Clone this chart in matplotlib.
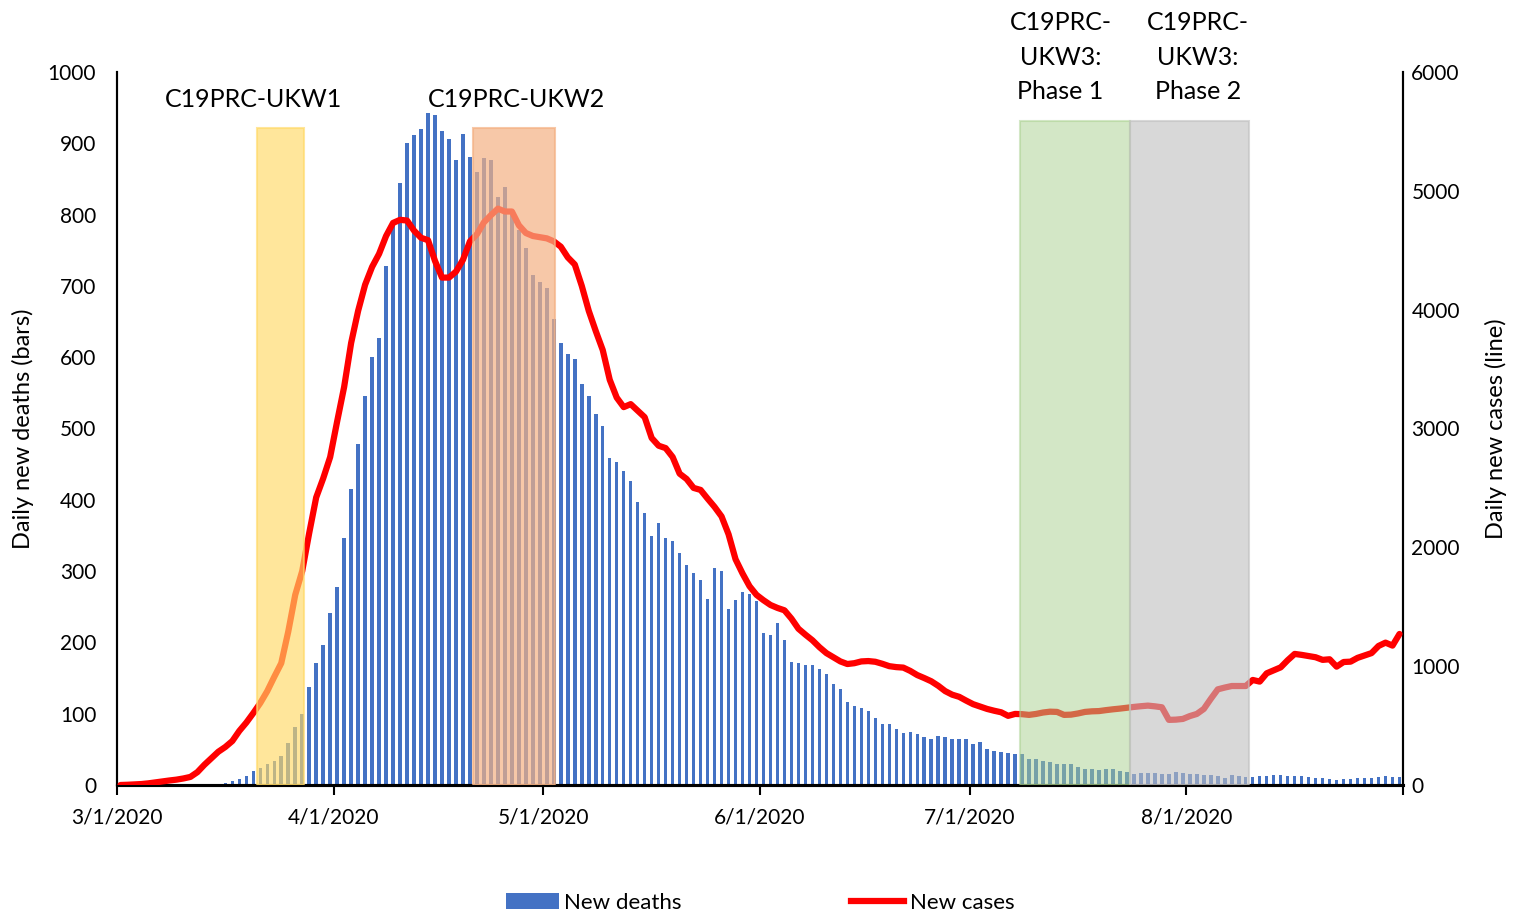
import numpy as np
import matplotlib
matplotlib.use("Agg")
import matplotlib.pyplot as plt
from matplotlib.patches import Patch
from matplotlib.lines import Line2D

plt.rcParams['font.family'] = ['Lato', 'DejaVu Sans']

# daily values, 1 Mar 2020 .. 31 Aug 2020 (one value per day)
deaths = [
    0, 0, 0, 0, 0, 0, 0, 0, 0, 0,
    0, 0, 0, 1, 1, 3, 6, 8, 13, 19,
    24, 30, 33, 40, 59, 82, 100, 138, 171, 197,
    241, 277, 346, 415, 478, 546, 600, 627, 728, 785,
    844, 900, 912, 920, 942, 939, 917, 906, 876, 913,
    881, 860, 880, 876, 825, 839, 800, 778, 753, 715,
    705, 697, 653, 620, 604, 597, 563, 545, 520, 503,
    459, 453, 441, 426, 397, 382, 349, 368, 347, 342,
    325, 308, 297, 288, 261, 305, 300, 247, 260, 270,
    268, 258, 213, 210, 227, 203, 172, 171, 169, 168,
    162, 155, 142, 134, 116, 111, 108, 104, 94, 86,
    85, 78, 73, 74, 71, 68, 65, 69, 68, 64,
    64, 65, 58, 60, 51, 48, 46, 45, 44, 44,
    37, 36, 34, 32, 30, 30, 29, 25, 23, 22,
    21, 22, 22, 19, 18, 15, 17, 17, 17, 16,
    15, 18, 17, 15, 15, 14, 14, 13, 10, 14,
    12, 11, 11, 13, 13, 14, 14, 13, 13, 13,
    11, 10, 10, 8, 7, 9, 9, 10, 10, 10,
    11, 12, 11, 11,
]

cases = [
    0, 2, 5, 8, 14, 22, 30, 38, 45, 55,
    68, 108, 170, 225, 280, 320, 370, 455, 525, 605,
    690, 790, 910, 1025, 1290, 1600, 1800, 2120, 2420, 2580,
    2760, 3060, 3350, 3720, 3990, 4210, 4360, 4470, 4620, 4730,
    4756, 4750, 4665, 4605, 4585, 4410, 4270, 4270, 4320, 4420,
    4575, 4635, 4735, 4795, 4850, 4826, 4826, 4710, 4645, 4620,
    4610, 4600, 4575, 4530, 4440, 4380, 4200, 3990, 3820, 3660,
    3410, 3260, 3180, 3205, 3150, 3095, 2920, 2855, 2835, 2760,
    2620, 2575, 2500, 2483, 2410, 2340, 2260, 2110, 1900, 1780,
    1673, 1600, 1555, 1515, 1490, 1470, 1400, 1315, 1265, 1218,
    1160, 1110, 1075, 1040, 1018, 1025, 1040, 1043, 1037, 1020,
    1000, 992, 988, 960, 925, 900, 873, 835, 790, 760,
    742, 710, 680, 660, 640, 625, 612, 582, 598, 596,
    590, 598, 610, 617, 615, 590, 592, 602, 615, 620,
    622, 630, 637, 643, 650, 657, 663, 668, 662, 654,
    548, 550, 556, 580, 598, 640, 725, 805, 820, 833,
    833, 833, 884, 870, 940, 965, 990, 1050, 1103, 1095,
    1085, 1075, 1053, 1058, 996, 1035, 1038, 1070, 1090, 1110,
    1170, 1198, 1173, 1271,
]

tick_days = [0, 31, 61, 92, 122, 153, 184]
tick_labels = ['3/1/2020', '4/1/2020', '5/1/2020', '6/1/2020', '7/1/2020', '8/1/2020', '']

# survey waves: (start day, end day, label)
wave_names = ['C19PRC-UKW1', 'C19PRC-UKW2', 'C19PRC-\nUKW3:\nPhase 1', 'C19PRC-\nUKW3:\nPhase 2']
wave_start = [20.0, 51.0, 129.2, 144.95]
wave_end = [26.7, 62.7, 144.95, 162.0]


def main():
    fig = plt.figure(figsize=(15.2, 9.15), dpi=100)
    ax = fig.add_axes([117 / 1520, 1 - 785 / 915, (1403 - 117) / 1520, (785 - 72) / 915])
    ax2 = ax.twinx()

    x = np.arange(len(deaths)) + 0.5
    ax.bar(x, deaths, width=0.5, color='#4472C4', zorder=2)
    ax2.plot(x, cases, color='#FF0000', lw=4.5, solid_joinstyle='round',
             solid_capstyle='round', zorder=3)

    ax.set_xlim(0, 184)
    ax.set_ylim(0, 1000)
    ax2.set_ylim(0, 6000)

    # shaded wave periods, drawn over bars and line
    styles = [('#FFD966', 0.65, 0.921), ('#F4B183', 0.7, 0.921),
              ('#A9D18E', 0.5, 0.931), ('#BFBFBF', 0.6, 0.931)]
    for (c, a, top), x0, x1 in zip(styles, wave_start, wave_end):
        ax2.axvspan(x0, x1, ymin=0, ymax=top, facecolor=c, edgecolor=c,
                    alpha=a, lw=1.5, zorder=4)

    # wave labels
    label_pos = [(19.6, 962), (57.1, 962), (135.0, 1021), (154.7, 1021)]
    for name, (lx, ly) in zip(wave_names, label_pos):
        ax.text(lx, ly, name, ha='center', va='center', fontsize=18,
                linespacing=1.6, clip_on=False, zorder=6)

    ax.set_xticks(tick_days)
    ax.set_xticklabels(tick_labels)
    ax.tick_params(axis='x', direction='out', length=7, width=1.5, labelsize=15, pad=9)
    ax.set_yticks(range(0, 1001, 100))
    ax.tick_params(axis='y', length=0, labelsize=15, pad=15)
    ax2.set_yticks(range(0, 6001, 1000))
    ax2.tick_params(axis='y', length=0, labelsize=15, pad=6)

    for a in (ax, ax2):
        a.spines['top'].set_visible(False)
        a.spines['left'].set_linewidth(1.5)
        a.spines['right'].set_linewidth(1.5)
        a.spines['bottom'].set_linewidth(2.2)

    ax.set_ylabel('Daily new deaths (bars)', fontsize=17, labelpad=10)
    ax2.set_ylabel('Daily new cases (line)', fontsize=17, labelpad=18)

    handles = [Patch(facecolor='#4472C4'), Line2D([0], [0], color='#FF0000', lw=4.5)]
    fig.legend(handles, ['New deaths', 'New cases'], loc='center',
               bbox_to_anchor=(0.5, 1 - 903 / 915), ncol=2, frameon=False,
               fontsize=16, handlelength=2.4, handletextpad=0.25, columnspacing=7.6)

    fig.savefig('out.png', dpi=100)


if __name__ == "__main__":
    main()
